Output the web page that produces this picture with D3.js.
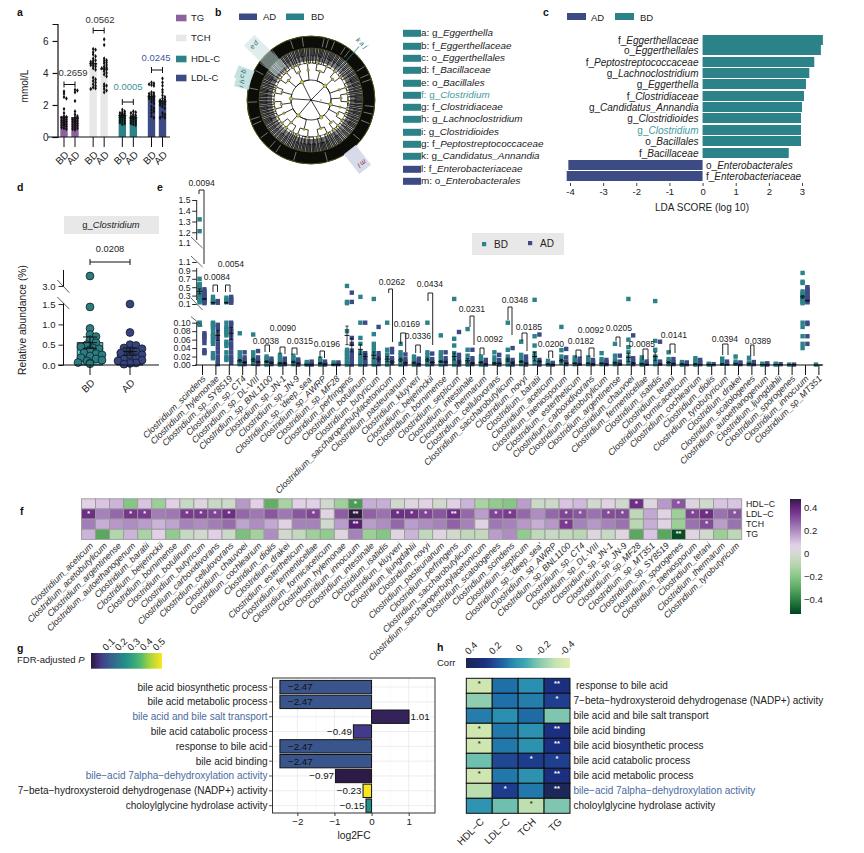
<!DOCTYPE html>
<html><head><meta charset="utf-8">
<script src="https://cdn.jsdelivr.net/npm/d3@7"></script>
<style>
html,body{margin:0;padding:0;background:#fff}
svg{display:block}
text{font-family:"Liberation Sans",Arial,sans-serif;fill:#222}
</style></head><body><div id="c"></div>
<script>
// ---------- DATA ----------
// a
const aMetrics=["TG","TCH","HDL-C","LDL-C"];
const aGroups=["BD","AD"];
const aMeans=[[1.25,1.2],[4.6,4.25],[1.35,1.2],[2.55,2.25]];
const aErrs=[[.14,.16],[.14,.16],[.04,.04],[.1,.1]];
const aP=["0.2659","0.0562","0.0005","0.0245"];
const aTG_BD=[2.85,2.7,2.5,2.4,1.75,1.5,1.3,1.25,1.2,1.15,1.1,1.05,1,1,.95,.9,.9,.85,.8,.8,.75,.7,.65,.6,.55,.5];
const aTG_AD=[2.95,2.9,2.8,2.25,1.6,1.4,1.3,1.2,1.15,1.1,1.05,1,1,.95,.9,.9,.85,.8,.75,.7,.65,.6,.55,.5,.45];
const aTCH_BD=[5.5,5.45,5.3,5.15,5.05,4.9,4.8,4.75,4.7,4.6,4.55,4.5,4.45,4.4,4.3,4.2,3.7,3.6,3.5,3.4,3.3,3.2,3.1,3.05,3];
const aTCH_AD=[6.1,5.75,4.9,4.8,4.75,4.65,4.6,4.5,4.4,4.35,4.3,4.25,4.2,4.1,4,3.9,3.8,3.3,3.2,3.15,3,2.9,2.8];
const aHDL_BD=[1.7,1.6,1.55,1.5,1.45,1.45,1.4,1.4,1.35,1.35,1.3,1.3,1.25,1.2,1.2,1.15,1.1,1.05,1,.95,.9,.85,.8];
const aHDL_AD=[1.6,1.55,1.5,1.4,1.35,1.3,1.3,1.25,1.25,1.2,1.2,1.15,1.15,1.1,1.05,1,.95,.9,.85,.8,.75];
const aLDL_BD=[3.4,3.35,3.3,3.25,3.2,2.8,2.75,2.7,2.65,2.6,2.55,2.5,2.5,2.45,2.4,2.35,2.3,2.2,2.1,1.9,1.8,1.7,1.6,1.5,1.3,1.2];
const aLDL_AD=[3.65,3.4,3.2,2.95,2.8,2.6,2.5,2.4,2.35,2.3,2.25,2.2,2.15,2.1,2.05,2,1.9,1.8,1.5,1.4,1.3,1.2,1.2];
// b
const bKeys=["a","b","c","d","e","f","g","h","i","g","k","l","m"];
const bRanks=["g_","f_","o_","f_","o_","g_","f_","g_","g_","f_","g_","f_","o_"];
const bNames=["Eggerthella","Eggerthellaceae","Eggerthellales","Bacillaceae","Bacillales","Clostridium","Clostridiaceae","Lachnoclostridium","Clostridioides","Peptostreptococcaceae","Candidatus_Annandia","Enterobacteriaceae","Enterobacterales"];
const bGroup=["BD","BD","BD","BD","BD","BD","BD","BD","BD","BD","BD","AD","AD"];
const cladeSizes=[
 [[[3,2,4,1],[2,5,3]],[[4,2],[3,1,2,3]],[[5,3,2]]],
 [[[2,1],[3,4,2,1]],[[2,3]],[[1,2,2],[4,1]]],
 [[[3,3,1],[2,4]],[[1,2,1,3],[5,2]]],
 [[[4,4,3,2],[3,2,1]],[[2,1,3],[4,2],[3,3]],[[2,5,1]]],
 [[[2,2,3],[1,3,2]],[[3,4,1],[2,2]]],
 [[[5,2,3],[2,1,4,2]],[[3,2],[1,2,3]],[[4,1,2,1]]]
];
const cladeGaps=[12,16,22,33,38,58,66,71,96,103,112,129,165,196,214,221,233,247,252,268,281,298,306,322,341,352];
const cladeMarks=[
 {deg:-46,r0:42,r1:86,w:15,fill:"#c4dfdf",ink:"#2b6f75",labels:["e","d"]},
 {deg:-69,r0:63,r1:80,w:13,fill:"#c4dfdf",ink:"#2b6f75",labels:["c","b"]},
 {deg:-77,r0:63,r1:78,w:8,fill:"#c4dfdf",ink:"#2b6f75",labels:["i","h"]},
 {deg:42,r0:44,r1:72,w:1.2,fill:"#2b8289",ink:"#2b6f75",labels:["k","a","j"]},
 {deg:142,r0:63,r1:88,w:15,fill:"#d5d8e8",ink:"#8a2a3a",labels:["m","l"]}
];
// c
const cRanks=["f_","o_","f_","g_","g_","f_","g_","g_","g_","o_","f_","o_","f_"];
const cNames=["Eggerthellaceae","Eggerthellales","Peptostreptococcaceae","Lachnoclostridium","Eggerthella","Clostridiaceae","Candidatus_Annandia","Clostridioides","Clostridium","Bacillales","Bacillaceae","Enterobacterales","Enterobacteriaceae"];
const cScores=[3.63,3.57,3.37,3.22,3.12,3.06,3.0,2.97,2.97,2.97,2.6,-4.05,-4.1];
// d
const dBD=[3.2,1.43,.9,.75,.7,.62,.55,.5,.45,.42,.4,.38,.35,.3,.28,.25,.22,.18,.15,.12,.1,.06,.05,.03];
const dAD=[1.5,.8,.5,.48,.42,.4,.35,.32,.3,.28,.25,.22,.2,.18,.15,.12,.1,.08,.05,.04,.02];
const dMeans=[.55,.33];
const dErrs=[.14,.09];
// e
const eSpecies=["scindens","hylemonae","sp_SY8519","sp_CT4","sp_DL-VIII","sp_BNL1100","sp_JN-1","sp_JN-9","sp_'deep_sea'","sp_AWRP","sp_MF28","perfringens","botulinum","butyricum","saccharoperbutylacetonicum","pasteurianum","kluyveri","beijerinckii","bornimense","septicum","intestinale","thermarum","cellulovorans","saccharobutylicum","novyi","baratii","aceticum","taeniosporum","estertheticum","carboxidivorans","acetobutylicum","argentinense","chauvoei","fermenticellae","isatidis","tetani","formicaceticum","cochlearium","diolis","tyrobutyricum","drakei","scatologenes","autoethanogenum","ljungdahlii","sporogenes","innocuum","sp_MT351"];
const eBD=[[1.32,1.21,.7,.58,.55,.5,.46,.42,.38,.34,.3,.27,.24,.2,.17,.14,.1,.099,.097,.095],[.27,.2,.16,.13,.1,.098,.095,.09,.085,.075,.07,.066,.06,.055,.05,.028,.02,.016],[.25,.2,.17,.14,.1,.09,.085,.08,.075,.07,.055,.05,.045,.03,.02,.015,.012],[.075,.03,.022,.014,.01,.007,.004,.002],[.072,.03,.022,.014,.01,.006,.003],[.02,.016,.012,.008,.004,.001],[.024,.018,.012,.007,.003,.001],[.022,.016,.011,.006,.002],[.007,.003,.001],[.015,.009,.004,.001],[.006,.002],[.53,.15,.12,.08,.036,.03,.026,.02,.015,.01,.005,.001],[.27,.1,.064,.05,.03,.026,.02,.015,.01,.005,.001],[.22,.073,.05,.04,.03,.024,.018,.012,.006,.001],[.1,.036,.025,.018,.012,.006,.001],[.05,.03,.022,.014,.007,.001],[.02,.012,.006,.001],[.1,.03,.022,.014,.007,.001],[.07,.03,.022,.014,.007,.001],[.22,.062,.046,.028,.02,.012,.005,.001],[.085,.036,.022,.012,.005,.001],[.02,.012,.006,.001],[.03,.018,.01,.004],[.1,.036,.02,.012,.005,.001],[.055,.024,.016,.008,.002],[.2,.068,.046,.028,.02,.012,.004],[.01,.004,.001],[.09,.035,.02,.012,.005],[.018,.012,.007,.002],[.018,.012,.006,.002],[.028,.014,.008,.002],[.05,.022,.012,.006,.002],[.22,.06,.042,.03,.018,.01,.004],[.018,.01,.005,.001],[.17,.057,.036,.02,.014,.007,.002],[.03,.014,.008,.002],[.007,.003,.001],[.016,.01,.005,.001],[.003,.001],[.015,.008,.003],[.02,.008,.003],[.017,.006,.002],[.003,.001],[.003,.001],[.001],[.84,.63,.6,.4,.36,.33,.3,.27,.24,.21,.18,.15,.12,.1,.09,.068,.05,.04],[.001]];
const eAD=[[.45,.41,.37,.33,.29,.26,.23,.2,.17,.14,.12,.075,.07,.065,.06,.052,.035,.03,.028],[.17,.15,.13,.095,.09,.08,.07,.065,.06,.05,.04,.03,.02,.012,.005,.002],[.27,.22,.17,.13,.1,.095,.085,.08,.07,.06,.05,.04,.03,.02,.012,.005],[.03,.018,.012,.006,.002],[.033,.018,.01,.005,.002],[.015,.01,.005,.002],[.015,.01,.005,.002],[.013,.008,.004,.001],[.008,.003,.001],[.008,.003,.001],[.006,.002],[.37,.15,.064,.05,.034,.028,.02,.015,.01,.005,.001],[.1,.028,.022,.015,.01,.005,.001],[.09,.028,.02,.014,.008,.002],[.038,.03,.016,.01,.004],[.025,.014,.008,.002],[.015,.01,.005,.001],[.027,.014,.007,.002],[.03,.016,.008,.002],[.078,.024,.014,.006,.001],[.036,.016,.008,.002],[.012,.006,.001],[.024,.012,.005,.001],[.04,.012,.006,.001],[.02,.012,.006,.001],[.072,.012,.006,.001],[.005,.001],[.038,.018,.008,.002],[.015,.008,.003],[.012,.007,.002],[.012,.006,.002],[.022,.008,.003],[.07,.016,.008,.002],[.008,.003],[.055,.008,.003],[.014,.007,.002],[.006,.002],[.012,.006,.002],[.002],[.008,.003],[.006,.002],[.007,.002],[.004,.001],[.002],[.001],[.5,.46,.42,.38,.34,.3,.27,.24,.2,.17,.14,.1,.097,.068,.05],[]];
const eMeanBD=[.4,.13,.13,.01,.012,.008,.004,.007,.001,.004,.001,.07,.037,.023,.014,.012,.005,.012,.008,.02,.01,.006,.004,.012,.008,.02,.002,.01,.004,.004,.004,.005,.018,.003,.02,.006,.002,.002,.001,.002,.003,.003,.001,.001,.001,.27,0];
const eErrBD=[.06,.012,.012,.003,.004,.002,.002,.002,.001,.002,.001,.022,.012,.008,.006,.004,.002,.004,.002,.008,.005,.002,.002,.004,.002,.01,.001,.003,.001,.001,.001,.002,.01,.001,.01,.002,.001,.001,.001,.001,.001,.001,0,0,0,.03,0];
const eMeanAD=[.22,.07,.075,.006,.007,.005,.004,.004,.001,.002,.001,.047,.02,.014,.007,.005,.002,.006,.007,.007,.004,.002,.004,.005,.004,.008,.001,.004,.002,.002,.002,.002,.004,.001,.002,.003,.001,.001,.001,.001,.001,.002,.001,.001,.001,.18,0];
const eErrAD=[.01,.012,.014,.002,.002,.002,.002,.001,.001,.001,.001,.016,.006,.005,.003,.002,.001,.002,.002,.004,.002,.001,.001,.002,.001,.003,.001,.001,.001,.001,.001,.001,.002,.001,.001,.001,0,0,0,0,0,0,0,0,0,.01,0];
const ePText=["0.0094","0.0084","0.0054","0.0038","0.0090","0.0315","0.0196","0.0262","0.0169","0.0336","0.0434","0.0231","0.0092","0.0348","0.0185","0.0200","0.0182","0.0092","0.0205","0.0085","0.0141","0.0394","0.0389"];
// f
const fSpecies=["aceticum","acetobutylicum","argentinense","autoethanogenum","baratii","beijerinckii","bornimense","botulinum","butyricum","carboxidivorans","cellulovorans","chauvoei","cochlearium","diolis","drakei","estertheticum","fermenticellae","formicaceticum","hylemonae","innocuum","intestinale","isatidis","kluyveri","ljungdahlii","novyi","pasteurianum","perfringens","saccharobutylicum","saccharoperbutylacetonicum","scatologenes","scindens","septicum","sp_'deep_sea'","sp_AWRP","sp_BNL1100","sp_CT4","sp_DL-VIII","sp_JN-1","sp_JN-9","sp_MF28","sp_MT351","sp_SY8519","sporogenes","taeniosporum","tetani","thermarum","tyrobutyricum"];
const fRows=["HDL−C","LDL−C","TCH","TG"];
const fHDL=[.08,.1,.13,-.2,.1,-.15,.08,-.04,.05,-.04,-.02,.18,.08,-.28,-.12,.08,.08,-.01,-.14,-.33,.14,.14,-.01,.05,.07,-.01,.08,.13,-.12,-.17,-.2,.17,-.03,-.03,.1,.12,-.01,.06,-.01,.38,.05,.18,.3,.06,-.01,.1,.1];
const fLDL=[.38,.22,.27,.36,.35,.23,.24,.35,.35,.33,.38,.27,.24,.3,.24,.3,.33,.07,.29,.48,.28,.25,.38,.37,.33,.3,.38,.27,.17,.33,.35,.27,.2,.27,.33,.3,.25,.32,.32,-.07,.15,.07,-.15,.33,.38,.25,.3];
const fTCH=[.23,.14,.18,.2,.17,.13,.16,.22,.2,.23,.26,.16,.2,.15,.08,.22,.22,-.01,.17,.42,.17,.2,.27,.17,.2,.22,.28,.22,.06,.24,.22,.18,.14,.18,.35,.22,.18,.22,.25,-.08,.14,.07,-.15,.25,.32,.17,.25];
const fTG=[.13,-.3,-.1,.13,-.12,.08,-.17,-.04,-.01,.08,-.03,-.22,-.13,.2,-.01,-.05,-.14,-.17,.05,.22,-.15,-.2,.05,.13,-.06,.05,-.01,-.06,-.05,.17,.2,-.17,-.06,-.04,-.05,-.08,.05,-.04,.05,-.3,.1,-.3,-.5,.05,-.01,-.15,-.07];
const fSigHDL=[[19,"*"],[39,"*"],[42,"*"]];
const fSigLDL=[[0,"*"],[3,"*"],[4,"*"],[7,"*"],[8,"*"],[9,"*"],[10,"*"],[16,"*"],[19,"**"],[22,"*"],[23,"*"],[24,"*"],[26,"**"],[29,"*"],[30,"*"],[34,"*"],[35,"*"],[37,"*"],[38,"*"],[43,"*"],[44,"*"],[46,"*"]];
const fSigTCH=[[19,"**"],[34,"*"],[44,"*"]];
const fSigTG=[[42,"**"]];
// g
const gTerms=["bile acid biosynthetic process","bile acid metabolic process","bile acid and bile salt transport","bile acid catabolic process","response to bile acid","bile acid binding","bile−acid 7alpha−dehydroxylation activity","7−beta−hydroxysteroid dehydrogenase (NADP+) activity","choloylglycine hydrolase activity"];
const gFC=[-2.47,-2.47,1.01,-.49,-2.47,-2.47,-.97,-.23,-.15];
const gP=[.12,.12,.02,.07,.12,.12,0,.55,.27];
const gBlue=["bile acid and bile salt transport","bile−acid 7alpha−dehydroxylation activity"];
// h
const hTerms=["response to bile acid","7−beta−hydroxysteroid dehydrogenase (NADP+) activity","bile acid and bile salt transport","bile acid binding","bile acid biosynthetic process","bile acid catabolic process","bile acid metabolic process","bile−acid 7alpha−dehydroxylation activity","choloylglycine hydrolase activity"];
const hBlue=["bile−acid 7alpha−dehydroxylation activity"];
const hCols=["HDL−C","LDL−C","TCH","TG"];
const hHDL=[-.33,-.18,.09,-.33,-.33,-.12,-.33,-.27,.03];
const hLDL=[.12,.12,.05,.1,.1,.22,.1,.25,-.12];
const hTCH=[.05,.09,.13,.04,.04,.25,.04,.1,-.28];
const hTG=[.3,.24,-.15,.3,.3,.24,.3,.42,-.15];
const hSigHDL=["*","","","*","*","","*","",""];
const hSigLDL=["","","","","","","","*",""];
const hSigTCH=["","","","","","*","","","*"];
const hSigTG=["**","*","","**","**","*","**","**",""];

// ---------- HELPERS ----------
const TEAL="#2b8289",NAVY="#3d4b85",PURP="#8d619d",GREY="#e8e8e8";
const svg=d3.select("#c").append("svg").attr("width",864).attr("height",853).attr("viewBox","0 0 864 853");
const defs=svg.append("defs");
function txt(g,x,y,s,o={}){
  const t=g.append("text").attr("x",x).attr("y",y).attr("dy",".35em").attr("font-size",o.size||9)
    .attr("text-anchor",o.anchor||"start").style("fill",o.color||"#222");
  if(o.weight)t.attr("font-weight",o.weight);
  if(o.rotate!==undefined)t.attr("transform",`rotate(${o.rotate},${x},${y})`);
  if(s!==null)t.text(s);
  return t;
}
function rankName(g,x,y,before,name,o={}){
  const t=txt(g,x,y,null,o);
  t.append("tspan").text(before);
  t.append("tspan").attr("font-style","italic").text(name);
  return t;
}
function line(g,x1,y1,x2,y2,w=1,c="#111"){
  return g.append("line").attr("x1",x1).attr("y1",y1).attr("x2",x2).attr("y2",y2).attr("stroke",c).attr("stroke-width",w);
}
function swarm(vals,y,step,dist,maxOff){
  const placed=[];
  return vals.map(v=>{
    const py=y(v);
    for(let k=0;;k++){
      const off=(k%2?1:-1)*Math.ceil(k/2)*step;
      if(Math.abs(off)>maxOff||!placed.some(p=>Math.hypot(p.x-off,p.y-py)<dist)){
        const o=Math.abs(off)>maxOff?0:off;
        placed.push({x:o,y:py});return {v,off:o};
      }
    }
  });
}
function styleAxis(g,w=1){
  g.selectAll("path.domain").attr("stroke","#111").attr("stroke-width",w);
  g.selectAll(".tick line").attr("stroke","#111").attr("stroke-width",w);
  g.selectAll(".tick text").attr("font-size",9).attr("font-family","Liberation Sans").style("fill","#222");
}
function gradient(id,scale,dom,vertical){
  const gr=defs.append("linearGradient").attr("id",id).attr("x1",0).attr("y1",0).attr("x2",vertical?0:1).attr("y2",vertical?1:0);
  d3.range(0,41).forEach(i=>{
    const t=i/40;
    gr.append("stop").attr("offset",t).attr("stop-color",scale(dom[0]+(dom[1]-dom[0])*t));
  });
}
// panel letters
[["a",17,12],["b",215,12],["c",543,12],["d",17,187],["e",157,187],["f",20,511],["g",17,648],["h",437,647]]
 .forEach(([s,x,y])=>txt(svg,x,y,s,{size:10.5,weight:"bold",color:"#111"}));

// ---------- PANEL a ----------
{
const g=svg.append("g");
const y=d3.scaleLinear().domain([0,7.06]).range([137,24]);
const gx=d3.scalePoint().domain(aMetrics).range([69.5,157]);
const off={BD:-5.5,AD:5.5};
const colors=[PURP,GREY,TEAL,NAVY];
const ptsets=[[aTG_BD,aTG_AD],[aTCH_BD,aTCH_AD],[aHDL_BD,aHDL_AD],[aLDL_BD,aLDL_AD]];
const dia=d3.symbol().type(d3.symbolDiamond).size(6);
aMetrics.forEach((m,i)=>{
  aGroups.forEach((gp,j)=>{
    const cx=gx(m)+off[gp];
    g.append("rect").attr("x",cx-3.7).attr("width",7.4).attr("y",y(aMeans[i][j])).attr("height",y(0)-y(aMeans[i][j])).attr("fill",colors[i]);
    g.selectAll(null).data(swarm(ptsets[i][j],y,1.2,2.2,4.2)).join("path").attr("d",dia).attr("fill","#111")
      .attr("transform",d=>`translate(${cx+d.off},${y(d.v)})`);
    const mv=aMeans[i][j],ev=aErrs[i][j];
    line(g,cx-4,y(mv),cx+4,y(mv),1);
    line(g,cx,y(mv+ev),cx,y(mv-ev),.8);
    line(g,cx,y(0),cx,147,1);
    txt(g,cx+3,153,gp,{anchor:"end",rotate:-45,size:10});
  });
});
const ax=g.append("g").attr("transform","translate(57.5,0)").call(d3.axisLeft(y).tickValues([0,2,4,6]).tickFormat(d=>d).tickSize(5).tickPadding(4));
styleAxis(ax,1.2); ax.selectAll(".tick text").attr("font-size",10);
line(g,48,137,170,137,1.2);
txt(g,24,86,"mmol/L",{anchor:"middle",rotate:-90,size:10});
const pY=[84.5,30.5,102,70],pTxtY=[73,20,87,58],pTxtX=[73,100,128,156],pCol=["#333","#333","#3f8f9a","#3d5a98"];
aP.forEach((p,i)=>{
  const x1=gx(aMetrics[i])-5.5,x2=gx(aMetrics[i])+5.5;
  line(g,x1,pY[i],x2,pY[i],1);line(g,x1,pY[i]-3,x1,pY[i]+3,1);line(g,x2,pY[i]-3,x2,pY[i]+3,1);
  txt(g,pTxtX[i],pTxtY[i],p,{anchor:"middle",size:9.5,color:pCol[i]});
});
const ly=[18,38,59,78];
aMetrics.forEach((m,i)=>{
  g.append("rect").attr("x",176).attr("y",ly[i]-3.3).attr("width",10.5).attr("height",6.6).attr("fill",colors[i]);
  txt(g,191,ly[i],m,{size:9.5});
});
}
// ---------- PANEL b ----------
{
const g=svg.append("g");
[["AD",239,NAVY,263],["BD",286,TEAL,311]].forEach(([s,x,c,tx])=>{
  g.append("rect").attr("x",x).attr("y",13.5).attr("width",18).attr("height",6.5).attr("fill",c);
  txt(g,tx,17,s,{size:9.5});
});
const rowsY=[33,46,58,70,83,95,107,119,132,144,156,169,181];
bNames.forEach((n,i)=>{
  g.append("rect").attr("x",403).attr("y",rowsY[i]-3.2).attr("width",18).attr("height",7).attr("fill",bGroup[i]==="BD"?TEAL:NAVY);
  const c=n==="Clostridium"?"#3f9aa0":"#222";
  rankName(g,421,rowsY[i],`${bKeys[i]}: ${bRanks[i]}`,n,{size:9.9,color:c});
});
// cladogram
const cx=311,cy=100;
const build=n=>Array.isArray(n)?{children:n.map(build)}:{children:d3.range(n).map(()=>({children:[{},{}]}))};
const root=d3.hierarchy(build(cladeSizes));
d3.cluster().size([2*Math.PI,1]).separation((a,b)=>a.parent===b.parent?1:(a.parent.parent===b.parent.parent?1.3:1.9))(root);
const R=[0,20,30,37,44,51,64];
const clade=g.append("g").attr("transform",`translate(${cx},${cy})`);
const P=(a,r)=>[r*Math.sin(a),-r*Math.cos(a)];
clade.append("circle").attr("r",64).attr("fill","#fff");
const p=d3.path();
root.descendants().forEach(d=>{
  if(!d.parent)return;
  const rp=R[d.parent.depth],r=R[d.depth];
  const a0=d.parent.x-Math.PI/2,a1=d.x-Math.PI/2;
  if(d.parent.depth>0){
    const s=P(d.parent.x,rp);p.moveTo(s[0],s[1]);
    p.arc(0,0,rp,a0,a1,a1<a0);
  }else{const s=P(d.x,rp);p.moveTo(s[0],s[1]);}
  const e=P(d.x,r);p.lineTo(e[0],e[1]);
});
clade.append("path").attr("d",p.toString()).attr("fill","none").attr("stroke","#0a0a0a").attr("stroke-width",.8);
// dense inner and outer rings of the leaf tips
clade.selectAll(null).data(root.leaves()).join("line")
  .attr("x1",d=>P(d.x,39)[0]).attr("y1",d=>P(d.x,39)[1]).attr("x2",d=>P(d.x,51)[0]).attr("y2",d=>P(d.x,51)[1])
  .attr("stroke","#161616").attr("stroke-width",.55);
clade.append("circle").attr("r",58).attr("fill","none").attr("stroke","#0c0c08").attr("stroke-width",12);
clade.selectAll(null).data(cladeGaps).join("line")
  .attr("x1",d=>P(d*Math.PI/180,54)[0]).attr("y1",d=>P(d*Math.PI/180,54)[1]).attr("x2",d=>P(d*Math.PI/180,63)[0]).attr("y2",d=>P(d*Math.PI/180,63)[1])
  .attr("stroke","#ddd").attr("stroke-width",.5);
clade.append("circle").attr("r",64).attr("fill","none").attr("stroke","#55551a").attr("stroke-width",1);
clade.append("circle").attr("r",52).attr("fill","none").attr("stroke","#55551a").attr("stroke-width",.7);
clade.append("circle").attr("r",20).attr("fill","none").attr("stroke","#111").attr("stroke-width",.8);
clade.append("circle").attr("r",37).attr("fill","none").attr("stroke","#111").attr("stroke-width",.5);
clade.selectAll(null).data(root.descendants().filter(d=>d.depth>=1&&d.depth<=3)).join("circle")
  .attr("cx",d=>P(d.x,R[d.depth])[0]).attr("cy",d=>P(d.x,R[d.depth])[1])
  .attr("r",d=>d.depth===1?1.8:1.2).attr("fill","#c9c42a").attr("stroke","#333").attr("stroke-width",.4);
clade.append("circle").attr("r",.8).attr("fill","#111");
clade.append("circle").attr("cx",10).attr("r",.6).attr("fill","#111");
cladeMarks.forEach(m=>{
  const mg=clade.append("g").attr("transform",`rotate(${m.deg})`);
  mg.append("rect").attr("x",-m.w/2).attr("y",-m.r1).attr("width",m.w).attr("height",m.r1-m.r0).attr("fill",m.fill).attr("opacity",m.r0<50?.55:.95);
  m.labels.forEach((l,i)=>{
    const n=m.labels.length;
    mg.append("text").attr("x",(i-(n-1)/2)*5).attr("y",m.w>2?-m.r1+9:-m.r1-2).attr("font-size",7).attr("font-style","italic")
      .attr("text-anchor","middle").style("fill",m.ink).text(l);
  });
});
}
// ---------- PANEL c ----------
{
const g=svg.append("g");
[["AD",567,NAVY,591],["BD",615,TEAL,640]].forEach(([s,x,c,tx])=>{
  g.append("rect").attr("x",x).attr("y",13).attr("width",19).attr("height",7).attr("fill",c);
  txt(g,tx,17.5,s,{size:9.5});
});
const x=d3.scaleLinear().domain([-4,3]).range([570,802]);
const rows=[40,50,62,73,84,96,107,118,130,141,153,165,176];
cNames.forEach((n,i)=>{
  const v=cScores[i];
  g.append("rect").attr("x",x(Math.min(0,v))).attr("y",rows[i]-5).attr("width",Math.abs(x(v)-x(0))).attr("height",10).attr("fill",v>0?TEAL:NAVY);
  const c=n==="Clostridium"?"#3f9aa0":"#222";
  rankName(g,v>0?698.5:706,rows[i],cRanks[i],n,{size:10,anchor:v>0?"end":"start",color:c});
});
const ax=g.append("g").attr("transform","translate(0,183)").call(d3.axisBottom(x).tickValues(d3.range(-4,4)).tickSize(3).tickPadding(2).tickFormat(d=>d));
styleAxis(ax,.8);ax.select("path.domain").remove();ax.selectAll(".tick text").attr("font-size",9.5);
txt(g,702,207,"LDA SCORE (log 10)",{anchor:"middle",size:10});
}
// ---------- PANEL d ----------
{
const g=svg.append("g");
const y=d3.scaleLinear().domain([0,1.6,2.7,3,3.4]).range([365,300,301,286,266]);
const gx=d3.scalePoint().domain(["BD","AD"]).range([90,130]);
const cols=["#62c0c8",NAVY],dots=["#2b7d80","#38427f"];
g.append("rect").attr("x",64).attr("y",216).attr("width",95).attr("height",18).attr("fill",GREY);
rankName(g,111,225,"g_","Clostridium",{anchor:"middle",size:9.4});
["BD","AD"].forEach((k,i)=>{
  const cx=gx(k);
  g.append("rect").attr("x",cx-12.8).attr("y",y(dMeans[i])).attr("width",25.6).attr("height",365-y(dMeans[i])).attr("fill",cols[i]).attr("stroke","#111").attr("stroke-width",.8);
  g.selectAll(null).data(swarm(i?dAD:dBD,y,3,5.2,12)).join("circle").attr("cx",d=>cx+d.off).attr("cy",d=>y(d.v)).attr("r",3.9).attr("fill",dots[i]).attr("stroke","#10202a").attr("stroke-width",.8);
  const a=y(dMeans[i]+dErrs[i]),b=y(dMeans[i]-dErrs[i]);
  line(g,cx,a,cx,b,1);line(g,cx-7,a,cx+7,a,1);line(g,cx-7,b,cx+7,b,1);line(g,cx-7,y(dMeans[i]),cx+7,y(dMeans[i]),1);
  line(g,cx,365,cx,375,1);
  txt(g,cx+3,381,k,{anchor:"end",rotate:-45,size:10});
});
line(g,58,365,159,365,1);
const lo=g.append("g").attr("transform","translate(63.5,0)").call(d3.axisLeft(y).tickValues([0,.5,1,1.5,3]).tickFormat(d3.format(".1f")).tickSize(5).tickPadding(3));
styleAxis(lo,.9);lo.select("path.domain").remove();lo.selectAll(".tick text").attr("font-size",9.5);
line(g,63.5,270,63.5,287,1);line(g,63.5,303,63.5,365,1);
line(g,57.3,280,69.3,292.7,.9,"#444");line(g,57.3,297,69.3,309,.9,"#444");
line(g,90,262,130,262,1);line(g,90,259,90,265,1);line(g,130,259,130,265,1);
txt(g,110,249,"0.0208",{anchor:"middle",size:9.3});
txt(g,22,320,"Relative abundance (%)",{anchor:"middle",rotate:-90,size:10.3});
}
// ---------- PANEL e ----------
{
const g=svg.append("g");
const y=d3.scaleLinear().domain([0,.1,.1001,1.1,1.1001,1.5]).range([365,322.7,304,262,243,200]);
const x=d3.scalePoint().domain(eSpecies).range([202,818.4]);
const sq=4.4;
const ser=[[eBD,TEAL,-2.4,eMeanBD,eErrBD],[eAD,NAVY,2.4,eMeanAD,eErrAD]];
ser.forEach(([vals,c,o])=>{
  vals.forEach((arr,i)=>{
    g.selectAll(null).data(arr).join("rect").attr("x",x(eSpecies[i])+o-sq/2).attr("y",d=>y(d)-sq/2).attr("width",sq).attr("height",sq).attr("fill",c);
  });
});
ser.forEach(([vals,c,o,mean,err])=>{
  mean.forEach((m,i)=>{
    const cx=x(eSpecies[i])+o;
    line(g,cx-2.4,y(m),cx+2.4,y(m),1);
    if(err[i]>0){
      const a=y(m+err[i]),b=y(Math.max(0,m-err[i]));
      line(g,cx,a,cx,b,.8);line(g,cx-1.6,a,cx+1.6,a,.8);line(g,cx-1.6,b,cx+1.6,b,.8);
    }
  });
});
const ax=g.append("g").attr("transform","translate(0,365)").call(d3.axisBottom(x).tickSize(10).tickFormat(()=>""));
styleAxis(ax,1);ax.select("path.domain").remove();
line(g,195,365,822,365,1.1);
eSpecies.forEach(s=>{
  txt(g,x(s)+2,377,"Clostridium_"+s,{anchor:"end",rotate:-45,size:8.9,color:"#2a2a2a"}).attr("font-style","italic");
});
// y axis
const lo=g.append("g").attr("transform","translate(196.7,0)").call(d3.axisLeft(y).tickValues([0,.02,.04,.06,.08,.1]).tickFormat(d3.format(".2f")).tickSize(4.5).tickPadding(1.5));
const mid=g.append("g").attr("transform","translate(196.7,0)").call(d3.axisLeft(y).tickValues([.1001,.3,.5,.7,.9,1.1]).tickFormat(d3.format(".1f")).tickSize(4.5).tickPadding(1.5));
const up=g.append("g").attr("transform","translate(196.7,0)").call(d3.axisLeft(y).tickValues([1.1001,1.2,1.3,1.4,1.5]).tickFormat(d3.format(".1f")).tickSize(4.5).tickPadding(1.5));
[lo,mid,up].forEach(a=>{styleAxis(a,.9);a.select("path.domain").remove();a.selectAll(".tick text").attr("font-size",8.8);});
up.selectAll(".tick").filter(d=>d<1.2).select("line").remove();
line(g,196.7,200,196.7,240,.9);line(g,196.7,268,196.7,300,.9);line(g,196.7,322,196.7,365,.9);
[[191,237,202.6,248],[191,256,202.6,267],[191,298,202.6,310],[191,316.7,202.6,326]].forEach(a=>line(g,a[0],a[1],a[2],a[3],.8,"#444"));
// P brackets: [text x, text y, x1, x2, top, left-end, right-end]
const br=[[201.7,183,199,204,190,194,264],[217,277,213,217.5,285,292,292],[231,264,225.5,230,285,292,292],[266,341,265,269.5,345,352,352],[283,328,280,285,347,354,354],[300,341,292,297,348,355,355],[327,344,320,324.5,351,358,358],[392,282,388.7,392.5,289,293,342],[407,324,400.7,405.7,333,344,352],[418,336,415.7,420.3,345,353,353],[430,284,428,432.7,293,301,345],[472,309,470,474,316,327,345],[490,339,480,484,348,355,355],[515,300,508,512,307,320,335],[529,327,522,527,333,341,351],[551,344,548.7,552.7,351,358,358],[581,341,576,581,350,358,358],[591,330,589,594,348,357,357],[619,328,616,620,337,341,347],[642,344,643,648,349,360,360],[674,335,670,675,344,353,353],[725,339,722.7,728,344,355,355],[758,341,750.7,754,345,356,356]];
ePText.forEach((p,i)=>{
  const b=br[i];
  g.append("path").attr("d",d3.line()([[b[2],b[5]],[b[2],b[4]],[b[3],b[4]],[b[3],b[6]]])).attr("fill","none").attr("stroke","#111").attr("stroke-width",.9);
  txt(g,b[0],b[1],p,{anchor:"middle",size:8.6});
});
// legend
g.append("rect").attr("x",472).attr("y",233).attr("width",92).attr("height",22).attr("fill",GREY);
g.append("rect").attr("x",482).attr("y",242).attr("width",4.2).attr("height",4.2).attr("fill",TEAL);
txt(g,494,244,"BD",{size:10});
g.append("rect").attr("x",528).attr("y",241).attr("width",4.2).attr("height",4.2).attr("fill",NAVY);
txt(g,540,243,"AD",{size:10});
}
// ---------- PANEL f ----------
{
const g=svg.append("g");
const x=d3.scaleBand().domain(fSpecies).range([81.5,741.7]);
const y=d3.scaleBand().domain(fRows).range([498.8,539.4]);
const col=d3.scaleLinear().domain([-.52,-.4,-.3,-.2,-.1,-.03,.02,.08,.15,.25,.35,.42,.48])
 .range(["#00441b","#2a7f45","#5aa860","#85c585","#b2d6ab","#cbd9c8","#d9d9d9","#e2d0e6","#c3a8d4","#9a72b0","#7a3a90","#5b2076","#2d1e3e"]).clamp(true);
const vals=[fHDL,fLDL,fTCH,fTG],sig=[fSigHDL,fSigLDL,fSigTCH,fSigTG];
fRows.forEach((r,j)=>{
  g.selectAll(null).data(vals[j]).join("rect").attr("x",(d,i)=>x(fSpecies[i])).attr("y",y(r)).attr("width",x.bandwidth()).attr("height",y.bandwidth())
    .attr("fill",d=>col(d)).attr("stroke","#9a9a9a").attr("stroke-width",.9);
  sig[j].forEach(([i,s])=>{
    g.append("text").attr("x",x(fSpecies[i])+x.bandwidth()/2).attr("y",y(r)+7).attr("text-anchor","middle").attr("font-size",7).attr("font-weight","bold").style("fill","#fff").text(s);
  });
  txt(g,746,y(r)+y.bandwidth()/2,r,{size:8.8});
});
fSpecies.forEach(s=>{
  txt(g,x(s)+x.bandwidth()/2+3,544,"Clostridium_"+s,{anchor:"end",rotate:-45,size:8.9,color:"#2a2a2a"}).attr("font-style","italic");
});
const ybar=d3.scaleLinear().domain([-.52,.478]).range([614,499]);
gradient("gf",col,[.478,-.52],true);
g.append("rect").attr("x",790).attr("y",499).attr("width",11).attr("height",115).attr("fill","url(#gf)");
[.4,.2,0,-.2,-.4].forEach(v=>txt(g,804,ybar(v),v===0?"0":(v<0?"−":"")+Math.abs(v).toFixed(1),{size:9.5}));
}
// ---------- PANEL g ----------
{
const g=svg.append("g");
const pal=d3.scaleLinear().domain([0,.07,.13,.27,.38,.46,.55]).range(["#2e1a47","#443a8c","#385a8c","#23908a","#4bb86e","#a8d43c","#f8e621"]).clamp(true);
const xb=d3.scaleLinear().domain([-.01,.555]).range([91,162]);
gradient("gg",pal,[-.01,.555],false);
g.append("rect").attr("x",91).attr("y",653).attr("width",71).attr("height",15.7).attr("fill","url(#gg)");
[.1,.2,.3,.4,.5].forEach(v=>txt(g,xb(v)-1,649,v.toFixed(1),{anchor:"start",rotate:-45,size:9.5}));
const t=txt(g,17,660,null,{size:9.5});t.append("tspan").text("FDR-adjusted ");t.append("tspan").attr("font-style","italic").text("P");
const x=d3.scaleLinear().domain([-2.67,1.71]).range([272.5,435]);
const y=d3.scaleBand().domain(gTerms).range([680.4,812.3]).paddingInner(.1);
const pl=g.append("g");
[-2.5,-1.5,-.5,.5,1.5].forEach(v=>line(pl,x(v),678,x(v),813,.5,"#f2f2f2"));
[-2,-1,0,1].forEach(v=>line(pl,x(v),678,x(v),813,.9,"#ebebeb"));
gTerms.forEach(n=>line(pl,272.5,y(n)+y.bandwidth()/2,435,y(n)+y.bandwidth()/2,.9,"#ebebeb"));
gTerms.forEach((n,i)=>{
  const v=gFC[i];
  g.append("rect").attr("x",x(Math.min(v,0))).attr("y",y(n)).attr("width",Math.abs(x(v)-x(0))).attr("height",y.bandwidth()).attr("fill",pal(gP[i])).attr("stroke","#111").attr("stroke-width",1);
  const lab=(v<0?"−":"")+Math.abs(v).toFixed(2);
  const cy=y(n)+y.bandwidth()/2;
  if(v<-2)txt(g,x(v)+8,cy,lab,{size:9.8,color:"#111"});
  else if(v<0)txt(g,x(v)-1.5,cy,lab,{anchor:"end",size:9.8,color:"#111"});
  else txt(g,x(v)+1.5,cy,lab,{size:9.8,color:"#111"});
  txt(g,267.5,cy,n,{anchor:"end",size:10,color:gBlue.includes(n)?"#4a6aa0":"#222"});
  line(g,269,cy,272.5,cy,.8,"#333");
});
g.append("rect").attr("x",272.5).attr("y",678).attr("width",162.5).attr("height",135).attr("fill","none").attr("stroke","#333").attr("stroke-width",1);
const ax=g.append("g").attr("transform","translate(0,813)").call(d3.axisBottom(x).tickValues([-2,-1,0,1]).tickSize(3).tickPadding(2).tickFormat(d=>d<0?"−"+(-d):d));
styleAxis(ax,.8);ax.select("path.domain").remove();ax.selectAll(".tick text").attr("font-size",9.8);
txt(g,354,835,"log2FC",{anchor:"middle",size:10.3});
}
// ---------- PANEL h ----------
{
const g=svg.append("g");
const col=d3.scaleLinear().domain([.45,.38,.3,.24,.12,.05,-.05,-.12,-.2,-.3,-.42]).range(["#1c2650","#1b2a66","#1a2f80","#1f3f8e","#1f6fa8","#2a8fb0","#40a8b4","#6fbfae","#98d1b0","#c8e4b0","#e2edb2"]).clamp(true);
gradient("gh",col,[.45,-.417],false);
g.append("rect").attr("x",466).attr("y",658).attr("width",104).attr("height",10).attr("fill","url(#gh)");
const xb=d3.scaleLinear().domain([.4,-.4]).range([472,568]);
txt(g,437,663,"Corr",{size:9.5});
[.4,.2,0,-.2,-.4].forEach(v=>{
  const s=v===0?"0":(v<0?"-":"")+Math.abs(v).toFixed(1);
  txt(g,xb(v)-1,648,s,{anchor:"middle",rotate:-45,size:9.5});
});
const x=d3.scaleBand().domain(hCols).range([466.3,570]);
const y=d3.scaleBand().domain(hTerms).range([678.3,813.3]);
const vals=[hHDL,hLDL,hTCH,hTG],sig=[hSigHDL,hSigLDL,hSigTCH,hSigTG];
hCols.forEach((c,j)=>{
  g.selectAll(null).data(vals[j]).join("rect").attr("x",x(c)).attr("y",(d,i)=>y(hTerms[i])).attr("width",x.bandwidth()).attr("height",y.bandwidth())
    .attr("fill",d=>col(d)).attr("stroke","#111").attr("stroke-width",1);
  sig[j].forEach((s,i)=>{
    if(!s)return;
    g.append("text").attr("x",x(c)+x.bandwidth()/2).attr("y",y(hTerms[i])+7.5).attr("text-anchor","middle").attr("font-size",7.5).attr("font-weight","bold")
      .style("fill",vals[j][i]>0?"#fff":"#333").text(s);
  });
  txt(g,x(c)+x.bandwidth()/2+3,820,c,{anchor:"end",rotate:-45,size:10});
});
hTerms.forEach((n,i)=>{
  txt(g,i===0?576:573.5,y(n)+y.bandwidth()/2,n,{size:10,color:hBlue.includes(n)?"#4a6aa0":"#222"});
});
}
</script></body></html>
